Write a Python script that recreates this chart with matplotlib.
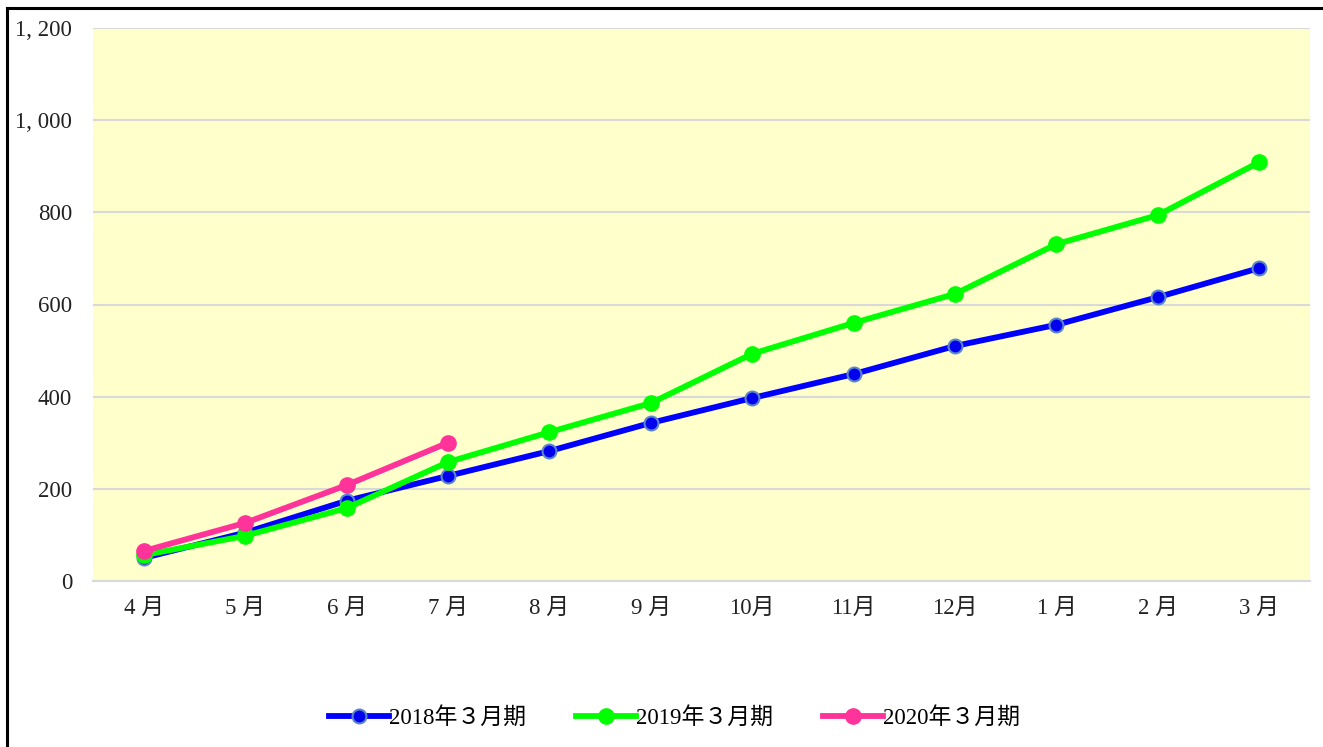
import matplotlib
matplotlib.use("Agg")
import matplotlib.pyplot as plt
from matplotlib.lines import Line2D
from matplotlib.ticker import FuncFormatter

plt.rcParams['font.family'] = ['Liberation Serif', 'Noto Sans CJK JP']

months = ['4 月', '5 月', '6 月', '7 月', '8 月', '9 月', '10月', '11月', '12月', '1 月', '2 月', '3 月']
sales_2018 = [50, 105, 174, 228, 282, 343, 397, 449, 510, 556, 616, 679]
sales_2019 = [56, 98, 158, 258, 323, 386, 493, 560, 623, 731, 794, 909]
sales_2020 = [65, 126, 208, 300]
labels = ['2018年３月期', '2019年３月期', '2020年３月期']

W, H = 1323, 747
fig = plt.figure(figsize=(W / 100, H / 100), dpi=100)
ax = fig.add_axes([93 / W, 1 - 581 / H, (1310 - 93) / W, (581 - 28) / H])

ax.set_facecolor('#FFFFCC')
x = list(range(len(months)))

ax.plot(x, sales_2018, color='#0000FF', lw=4.2, marker='o', ms=10,
        mfc='#0000EE', mec='#5B86C8', mew=1.5, label=labels[0], zorder=3)
ax.plot(x, sales_2019, color='#00FF00', lw=4.2, marker='o', ms=11,
        mfc='#00FF00', mec='#00FF00', label=labels[1], zorder=4)
ax.plot(x[:len(sales_2020)], sales_2020, color='#FF3399', lw=4.2, marker='o', ms=11,
        mfc='#FF3399', mec='#FF3399', label=labels[2], zorder=5)

ax.set_xlim(-0.5, len(months) - 0.5)
ax.set_ylim(0, 1200)
ax.set_yticks(range(0, 1201, 200))
ax.yaxis.set_major_formatter(FuncFormatter(lambda v, p: f'{int(v):,}'.replace(',', ', ')))
ax.set_xticks(x)
ax.set_xticklabels(months)
ax.grid(axis='y', color='#D9D9D9', lw=1.5)
ax.set_axisbelow(True)
for s in ['top', 'right', 'left']:
    ax.spines[s].set_visible(False)
ax.spines['bottom'].set_color('#D9D9D9')
ax.spines['bottom'].set_linewidth(1.5)
ax.tick_params(axis='both', length=0, labelsize=16.5, colors='#222222')
ax.tick_params(axis='y', pad=15)
ax.tick_params(axis='x', pad=12)

fig.legend(loc='center', bbox_to_anchor=(0.51, 1 - 718 / H), ncol=3, frameon=False,
           fontsize=16.5, handlelength=2.6, columnspacing=2.2, handletextpad=0.0)

# outer frame (left and top edges visible)
fig.add_artist(Line2D([7 / W, 7 / W], [0, 1 - 8 / H], color='black', lw=2.2))
fig.add_artist(Line2D([7 / W, 1], [1 - 8 / H, 1 - 8 / H], color='black', lw=2.2))

fig.savefig('out.png', dpi=100)
